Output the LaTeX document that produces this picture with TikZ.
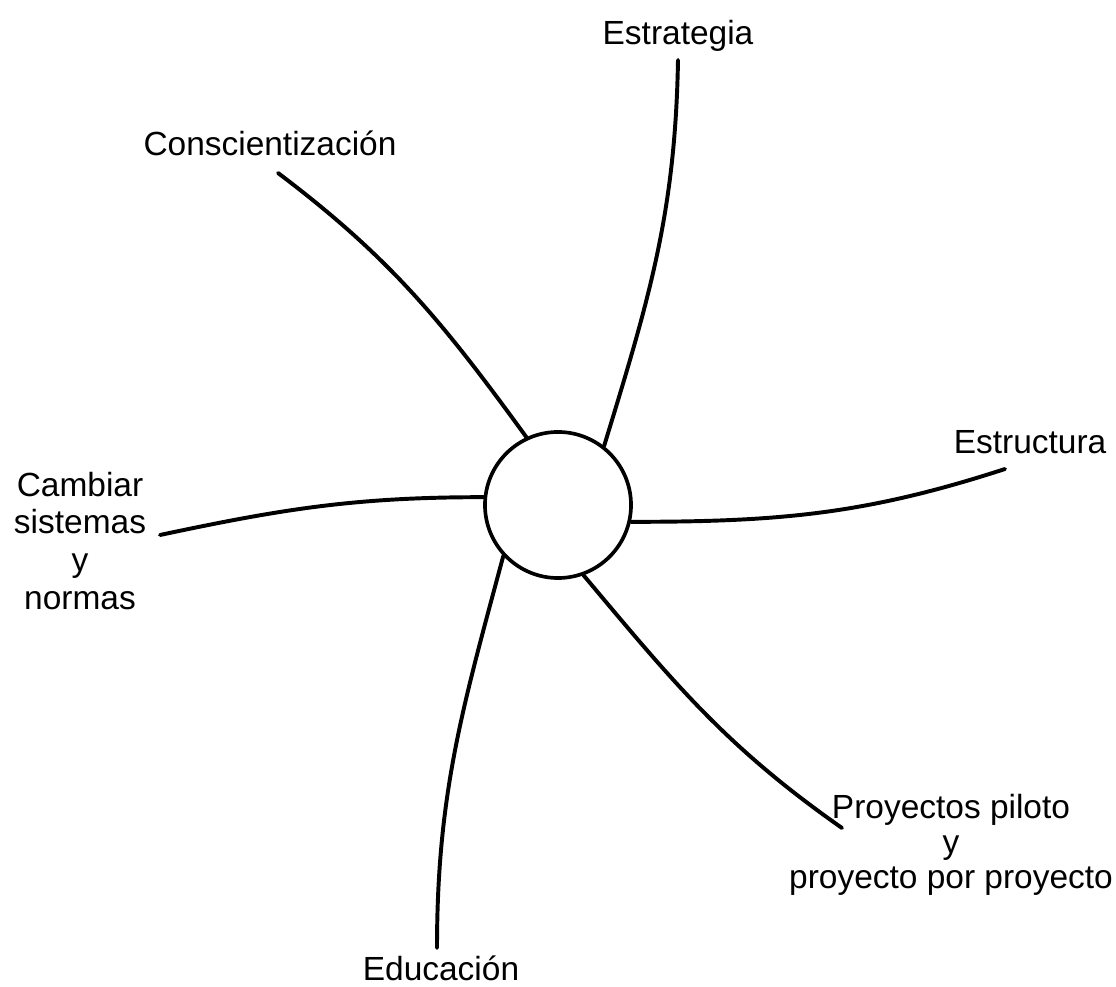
\documentclass[tikz,border=0pt]{standalone}
\usepackage{fontspec}
\setmainfont{Liberation Sans}

\begin{document}
\begin{tikzpicture}[x=0.025cm, y=0.025cm, line width=2.8pt, line cap=round,
    every node/.style={font=\fontsize{23.8}{27}\selectfont, align=center, inner sep=0pt}]
    \useasboundingbox (0,0) rectangle (1116,986);
    % Centre
    \node[draw, circle, minimum size=3.65cm, line width=2.6pt] (hub) at (558,481) {};
    % Estrategia
    \coordinate (estr) at (678,926); \node (estrlbl) at (678,950) {Estrategia};
    \draw (hub.52) to[out=73,in=-91] (estr);
    % Conscientizacion
    \coordinate (cons) at (278,813); \node (conslbl) at (270,843) {Conscientización};
    \draw (hub.115) to[out=126,in=-37] (cons);
    % Cambiar sistemas y normas
    \coordinate (camb) at (160,451); \node (camblbl) at (80,445) {Cambiar\\sistemas\\y\\normas};
    \draw (hub.174) to[out=180,in=12] (camb);
    % Estructura
    \coordinate (estc) at (1005,517); \node (estclbl) at (1030,544) {Estructura};
    \draw (hub.-13) to[out=0,in=-162] (estc);
    % Proyectos piloto
    \coordinate (proy) at (842,158);
    \node[font=\fontsize{23.8}{25}\selectfont] (proylbl) at (951,141) {Proyectos piloto\\y\\proyecto por proyecto};
    \draw (hub.-70) to[out=-50,in=145] (proy);
    % Educacion
    \coordinate (educ) at (437,38); \node (educlbl) at (441,18) {Educación};
    \draw (hub.223) to[out=-105,in=90] (educ);
\end{tikzpicture}
\end{document}
